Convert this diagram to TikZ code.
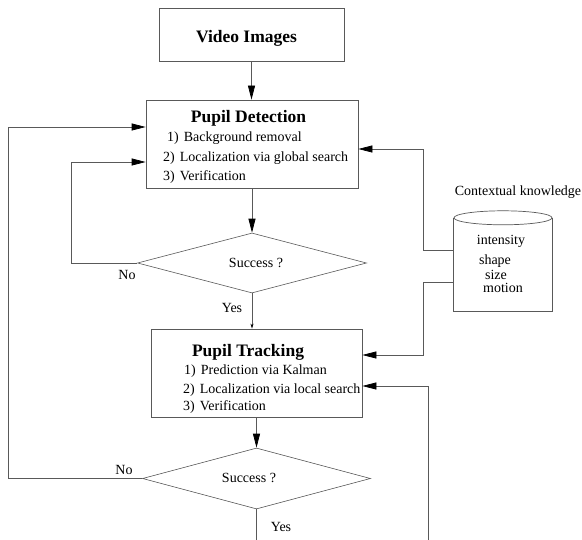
\documentclass[tikz,border=0pt]{standalone}
\usepackage{fontspec}
\setmainfont{Liberation Serif}
\usetikzlibrary{positioning, arrows.meta, shapes.geometric, calc}

\tikzset{
  box/.style={draw=black!65, line width=0.7pt, inner sep=0pt},
  decision/.style={diamond, draw=black!65, line width=0.6pt, inner sep=0pt},
  line/.style={draw=black!65, line width=0.7pt},
  arr/.style={line, -{Triangle[length=14pt, width=7pt, color=black]}},
  thinarr/.style={line, -{Stealth[length=5pt, width=3pt, color=black]}},
  txt/.style={font=\rmfamily\fontsize{14}{16}\selectfont, inner sep=0pt, anchor=base},
  item/.style={txt, anchor=base west},
  title/.style={font=\rmfamily\fontsize{17.5}{20}\selectfont\bfseries, inner sep=0pt, anchor=base},
}

\begin{document}
\begin{tikzpicture}[x=1pt, y=-1pt]
    \useasboundingbox (0,0) rectangle (582,540);
    % Boxes
    \node[box, minimum width=185pt, minimum height=53pt] (video) at (251.5,34.5) {};
    \node[box, minimum width=212pt, minimum height=88pt] (detect) at (252,144) {};
    \node[decision, minimum width=229pt, minimum height=60pt] (dec1) at (252,263) {};
    \node[box, minimum width=211pt, minimum height=88pt] (track) at (256.5,373) {};
    \node[decision, minimum width=228pt, minimum height=61pt] (dec2) at (256.5,478.5) {};
    % Contextual knowledge store
    \node[minimum width=98pt, minimum height=93pt, inner sep=0pt] (kb) at (503,264.5) {};
    \draw[line] (kb.north west) -- (kb.south west) -- (kb.south east) -- (kb.north east);
    \draw[line] (kb.north) ellipse [x radius=49pt, y radius=7pt];
    % Texts
    \node[title] (videoT) at (246.5,43) {Video Images};
    \node[title] (detectT) at (248.5,123) {Pupil Detection};
    \node[item] (d1) at (167,142) {1)\hspace{5pt}Background removal};
    \node[item] (d2) at (163,162) {2)\hspace{5pt}Localization via global search};
    \node[item] (d3) at (163,181) {3)\hspace{5pt}Verification};
    \node[title] (trackT) at (248,357) {Pupil Tracking};
    \node[item] (t1) at (184,375) {1)\hspace{5pt}Prediction via Kalman};
    \node[item] (t2) at (183,394) {2)\hspace{5pt}Localization via local search};
    \node[item] (t3) at (183,411) {3)\hspace{5pt}Verification};
    \node[txt] (q1) at (256,268) {Success ?};
    \node[txt] (q2) at (249,483) {Success ?};
    \node[txt] (kbT) at (518,196) {Contextual knowledge};
    \node[txt] (k1) at (501,245) {intensity};
    \node[txt] (k2) at (495,265) {shape};
    \node[txt] (k3) at (496,280) {size};
    \node[txt] (k4) at (503,293) {motion};
    \node[txt] (no1) at (127,280) {No};
    \node[txt] (yes1) at (232,313) {Yes};
    \node[txt] (no2) at (124,475) {No};
    \node[txt] (yes2) at (281,532) {Yes};
    % Main flow
    \draw[arr] (video.south) -- (video.south |- detect.north);
    \draw[arr] (detect.south) -- (dec1.north);
    \draw[thinarr] (dec1.south) -- (dec1.south |- track.north);
    \draw[arr] (track.south) -- (dec2.north);
    % Failure loops
    \draw[arr] (dec1.west) -- ++(-66,0) |- ([yshift=-18pt]detect.west);
    \draw[arr] (dec2.west) -- ++(-133.5,0) |- ([yshift=17pt]detect.west);
    % Knowledge feeds
    \draw[arr] ([yshift=14.5pt]kb.west) -- ++(-30,0) |- ([yshift=-5pt]detect.east);
    \draw[arr] ([yshift=-17.5pt]kb.west) -- ++(-30,0) |- ([yshift=18pt]track.east);
    % Success loop (cut at the bottom edge)
    \coordinate (yesEnd) at (256.5,540);
    \coordinate (loopStart) at (428,540);
    \draw[line] (dec2.south) -- (yesEnd);
    \draw[arr] (loopStart) |- ([yshift=-13pt]track.east);
\end{tikzpicture}
\end{document}
